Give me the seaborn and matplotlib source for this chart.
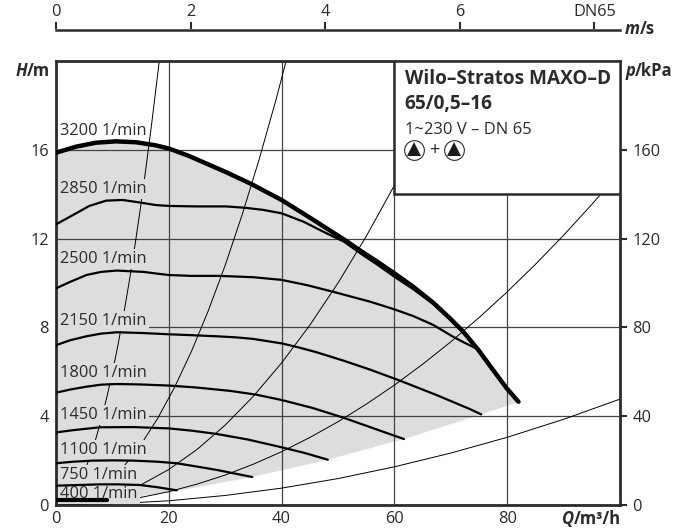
import matplotlib
matplotlib.use('Agg')
import matplotlib.pyplot as plt
import seaborn as sns
import pandas as pd

# pump curves: Q in m3/h, H in m
q_3200 = [0, 3.55, 7.1, 10.6, 14.2, 17.7, 20.1, 23.6, 27.2, 30.1, 34.7, 40, 45.6, 51, 53.9, 56.85, 59.8, 63.35, 66.9, 69.85, 72.2, 74.9, 77.5, 79.9, 82]
h_3200 = [15.87, 16.14, 16.32, 16.38, 16.34, 16.2, 16.05, 15.72, 15.32, 15.0, 14.45, 13.74, 12.85, 11.97, 11.47, 10.98, 10.47, 9.83, 9.11, 8.41, 7.81, 6.98, 6.08, 5.26, 4.65]
q_2850 = [0, 3, 5.9, 8.9, 11.8, 14.8, 17.7, 20.1, 24.8, 30.1, 33.5, 36.8, 40, 43.9, 47.4, 51, 54, 57, 60, 63.35, 66.9, 69.85, 72.2]
h_2850 = [12.64, 13.06, 13.47, 13.71, 13.74, 13.63, 13.51, 13.47, 13.45, 13.45, 13.39, 13.29, 13.14, 12.76, 12.31, 11.87, 11.33, 10.82, 10.28, 9.72, 9.05, 8.36, 7.77]
q_2500 = [0, 2.5, 5.4, 8, 10.75, 15.5, 18, 20, 24, 29.1, 35, 40, 44.4, 49.2, 55.67, 59.8, 63.35, 66.9, 70.4, 72.5, 74.9]
h_2500 = [9.76, 10.05, 10.36, 10.5, 10.56, 10.5, 10.42, 10.36, 10.32, 10.32, 10.26, 10.14, 9.91, 9.6, 9.16, 8.83, 8.51, 8.11, 7.58, 7.3, 7.0]
q_2150 = [0, 2.5, 5.4, 8, 10.75, 15, 20, 24, 28.5, 32, 35, 38, 40, 43, 46.2, 51, 55.67, 61, 67.5, 73.4, 75.4]
h_2150 = [7.2, 7.42, 7.6, 7.72, 7.78, 7.75, 7.69, 7.65, 7.6, 7.55, 7.48, 7.36, 7.28, 7.1, 6.88, 6.5, 6.1, 5.6, 4.95, 4.32, 4.08]
q_1800 = [0, 2.5, 5.4, 8, 10.75, 15, 20, 25, 30.9, 35.5, 40, 45.5, 51, 56, 61.7]
h_1800 = [5.06, 5.2, 5.33, 5.42, 5.45, 5.43, 5.38, 5.29, 5.14, 4.97, 4.73, 4.37, 3.93, 3.48, 2.97]
q_1450 = [0, 3, 7.8, 13.7, 20, 24, 28.5, 34, 40, 44, 48.2]
h_1450 = [3.27, 3.37, 3.5, 3.51, 3.45, 3.35, 3.2, 2.95, 2.6, 2.35, 2.04]
q_1100 = [0, 3, 6.6, 10, 13.7, 18, 21.4, 25, 28.5, 34.8]
h_1100 = [1.88, 1.95, 2.0, 2.01, 2.0, 1.95, 1.88, 1.73, 1.58, 1.26]
q_750 = [0, 4, 7.8, 11, 14.9, 18, 21.4]
h_750 = [0.87, 0.9, 0.93, 0.93, 0.9, 0.8, 0.66]
q_400 = [0, 9]
h_400 = [0.23, 0.23]

# lower edge of the grey area
q_low = [0, 9, 21.4, 34.8, 48.2, 61.7, 75.4, 82]
h_low = [0, 0.2, 0.63, 1.26, 2.04, 2.97, 4.08, 4.65]

# thin system curves
q_a = [0, 1, 2, 3, 4, 5, 6, 7, 8, 9, 10, 11, 12, 13, 14, 15, 16, 17, 18, 18.3]
h_a = [0, 0.06, 0.24, 0.54, 0.96, 1.49, 2.15, 2.93, 3.82, 4.84, 5.97, 7.22, 8.6, 10.09, 11.7, 13.43, 15.28, 17.25, 19.34, 20]
q_b = [0, 3, 6, 9, 12, 15, 18, 21, 24, 27, 30, 33, 36, 39, 40.8]
h_b = [0, 0.11, 0.43, 0.97, 1.73, 2.7, 3.89, 5.29, 6.91, 8.75, 10.8, 13.07, 15.55, 18.25, 20]
q_c = [0, 5, 10, 15, 20, 25, 30, 35, 40, 45, 50, 55, 60, 65, 70, 70.7]
h_c = [0, 0.1, 0.4, 0.9, 1.6, 2.5, 3.6, 4.9, 6.4, 8.1, 10.0, 12.1, 14.4, 16.9, 19.6, 20]
q_d = [0, 5, 10, 15, 20, 25, 30, 35, 40, 45, 50, 55, 60, 65, 70, 75, 80, 85, 90, 95, 100]
h_d = [0, 0.04, 0.15, 0.34, 0.6, 0.94, 1.35, 1.84, 2.4, 3.04, 3.75, 4.54, 5.4, 6.34, 7.35, 8.44, 9.6, 10.84, 12.15, 13.54, 15]
q_e = [0, 10, 20, 30, 40, 50, 60, 70, 80, 90, 100]
h_e = [0, 0.05, 0.19, 0.43, 0.76, 1.19, 1.72, 2.34, 3.05, 3.86, 4.77]

speed_labels = ['3200 1/min', '2850 1/min', '2500 1/min', '2150 1/min', '1800 1/min',
                '1450 1/min', '1100 1/min', '750 1/min', '400 1/min']
speed_label_h = [16.85, 14.23, 11.08, 8.28, 5.94, 4.05, 2.47, 1.35, 0.5]

q_ticks = [0, 20, 40, 60, 80]
h_ticks = [0, 4, 8, 12, 16]
p_ticks = [0, 40, 80, 120, 160]
v_ticks = [0, 2, 4, 6, 8]
v_labels = ['0', '2', '4', '6', 'DN65']

ink = '#2b2b2b'
grey = '#dcddde'

sns.set_theme(style='white')
plt.rcParams['font.family'] = ['Open Sans', 'DejaVu Sans']

fig = plt.figure(figsize=(6.88, 5.29), dpi=100)
ax = fig.add_axes([56 / 688, 1 - 505 / 529, 564 / 688, 444 / 529])
ax.set_xlim(0, 100)
ax.set_ylim(0, 20)

# grey area between top curve and lower edge
ax.fill(q_3200 + q_low[::-1], h_3200 + h_low[::-1], color=grey, lw=0, zorder=0.2)

ax.set_axisbelow(True)
ax.set_xticks(q_ticks)
ax.set_yticks(h_ticks)
ax.grid(True, color='#444444', lw=0.9)
ax.tick_params(axis='both', length=0, labelsize=11.8, colors=ink)
ax.tick_params(axis='x', pad=4.5)
ax.tick_params(axis='y', pad=5)

# thin curves
for q, h in [(q_a, h_a), (q_b, h_b), (q_c, h_c), (q_d, h_d), (q_e, h_e)]:
    df = pd.DataFrame({'q': q, 'h': h})
    sns.lineplot(data=df, x='q', y='h', ax=ax, color='black', lw=0.7, zorder=1)

# speed labels hide the thin lines and grid behind them
for i, txt in enumerate(speed_labels):
    bg = 'white' if i == 0 else grey
    ax.text(0.7, speed_label_h[i], txt, fontsize=11.8, color=ink, va='center', ha='left', zorder=2,
            bbox=dict(facecolor=bg, edgecolor='none', pad=1.5))

# pump curves
curves = [(q_2850, h_2850, 1.6), (q_2500, h_2500, 1.6), (q_2150, h_2150, 1.6), (q_1800, h_1800, 1.6),
          (q_1450, h_1450, 1.6), (q_1100, h_1100, 1.6), (q_750, h_750, 1.6), (q_400, h_400, 3),
          (q_3200, h_3200, 3.2)]
for q, h, w in curves:
    df = pd.DataFrame({'q': q, 'h': h})
    sns.lineplot(data=df, x='q', y='h', ax=ax, color='black', lw=w, zorder=3)

ax.set_xlabel('')
ax.set_ylabel('')
for s in ax.spines.values():
    s.set_color(ink)
    s.set_linewidth(2)

# info box
ax.add_patch(plt.Rectangle((60, 14), 40, 6, facecolor='white', edgecolor=ink, lw=1.8, zorder=4))
ax.text(61.8, 19.19, 'Wilo–Stratos MAXO–D', fontsize=13.7, fontweight='bold', color=ink, va='center', zorder=5)
ax.text(61.8, 18.06, '65/0,5–16', fontsize=13.7, fontweight='bold', color=ink, va='center', zorder=5)
ax.text(61.8, 16.88, '1~230 V – DN 65', fontsize=12, color=ink, va='center', zorder=5)
for q_sym in [63.5, 70.5]:
    ax.plot(q_sym, 16.0, marker='o', ms=14.2, mfc='white', mec=ink, mew=0.8, zorder=5)
    ax.plot(q_sym, 16.05, marker='^', ms=10, color='#1a1a1a', mew=0, zorder=6)
ax.text(67, 15.98, '+', fontsize=13, color=ink, va='center', ha='center', zorder=5)

# right axis in kPa
ax_p = ax.twinx()
ax_p.set_ylim(0, 200)
ax_p.set_yticks(p_ticks)
ax_p.grid(False)
ax_p.tick_params(axis='y', length=5, width=1.5, color=ink, labelsize=11.8, labelcolor=ink, pad=4)
for s in ax_p.spines.values():
    s.set_visible(False)

# top axis in m/s
ax_v = fig.add_axes([56 / 688, 1 - 29.5 / 529, 564 / 688, 0.001])
ax_v.set_xlim(0, 564 / 67.3)
ax_v.set_xticks(v_ticks)
ax_v.set_xticklabels(v_labels)
ax_v.set_yticks([])
ax_v.patch.set_visible(False)
ax_v.tick_params(axis='x', bottom=False, top=True, labelbottom=False, labeltop=True, direction='out',
                 length=5, width=1.5, color=ink, labelsize=11.8, labelcolor=ink, pad=1.5)
for side in ['left', 'right', 'top']:
    ax_v.spines[side].set_visible(False)
ax_v.spines['bottom'].set_color(ink)
ax_v.spines['bottom'].set_linewidth(1.8)

# axis names
def px_text(x, y, txt, **kw):
    fig.text(x / 688, 1 - y / 529, txt, color=ink, va='center', fontsize=12, **kw)

px_text(27, 71, 'H', fontweight='bold', style='italic', ha='right')
px_text(27, 71, '/m', fontweight='bold', ha='left')
px_text(635, 71, 'p', fontweight='bold', style='italic', ha='right')
px_text(635, 71, '/kPa', fontweight='bold', ha='left')
px_text(640, 29, 'm', fontweight='bold', style='italic', ha='right')
px_text(640, 29, '/s', fontweight='bold', ha='left')
px_text(574, 519, 'Q', fontweight='bold', style='italic', ha='right')
px_text(574, 519, '/m³/h', fontweight='bold', ha='left')

fig.savefig('out.png', dpi=100)
